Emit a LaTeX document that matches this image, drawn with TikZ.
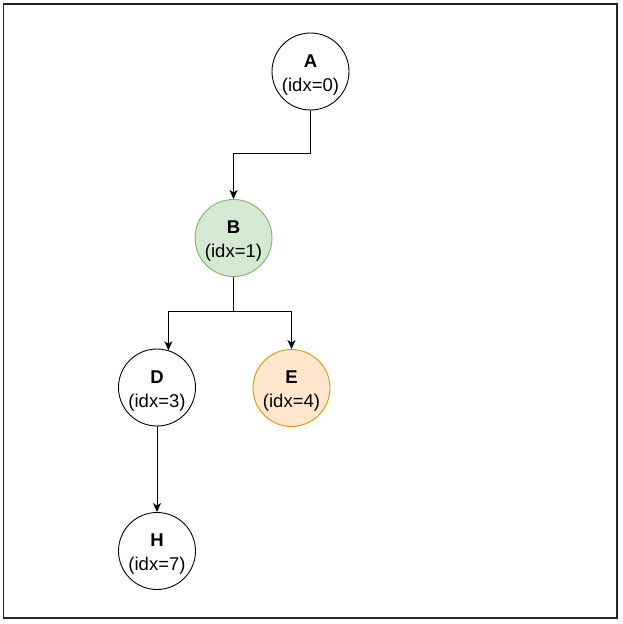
\documentclass[tikz,border=0pt]{standalone}
\usepackage{fontspec}
\setmainfont{Liberation Sans}
\usetikzlibrary{arrows.meta}
\definecolor{gfill}{HTML}{D5E8D4}
\definecolor{gdraw}{HTML}{82B366}
\definecolor{ofill}{HTML}{FFE6CC}
\definecolor{odraw}{HTML}{D79B00}
\tikzset{
  vtx/.style={circle, draw=black, line width=0.9pt, minimum size=77pt, inner sep=0pt, align=center, font=\fontsize{18.5}{24}\selectfont},
  green/.style={fill=gfill, draw=gdraw},
  orange/.style={fill=ofill, draw=odraw},
  arr/.style={line width=0.9pt, -{Stealth[length=9pt,width=8pt,inset=2.5pt]}},
  ln/.style={line width=0.9pt}
}
\newcommand{\topstrut}{\rule{0pt}{19pt}}
\begin{document}
\begin{tikzpicture}[x=1pt,y=-1pt]
\useasboundingbox (0,0) rectangle (622,624);
\draw[line width=1.1pt, black!85] (3.5,4) rectangle (617,618);
\node[vtx] (A) at (310.5,71.5) {\topstrut\textbf{A}\\(idx=0)};
\node[vtx,green] (B) at (233.5,238) {\topstrut\textbf{B}\\(idx=1)};
\node[vtx] (D) at (157,387.5) {\topstrut\textbf{D}\\(idx=3)};
\node[vtx,orange] (E) at (291.5,388) {\topstrut\textbf{E}\\(idx=4)};
\node[vtx] (H) at (157,551) {\topstrut\textbf{H}\\(idx=7)};
\coordinate (m1) at (310.5,153);
\coordinate (m2) at (233.5,311);
\draw[arr] (A.south) -- (m1) -| (B.north);
\draw[ln] (B.south) -- (m2);
\draw[arr] (m2) -| (D.73.6);
\draw[arr] (m2) -| (E.north);
\draw[arr] (D.south) -- (H.north);
\end{tikzpicture}
\end{document}
